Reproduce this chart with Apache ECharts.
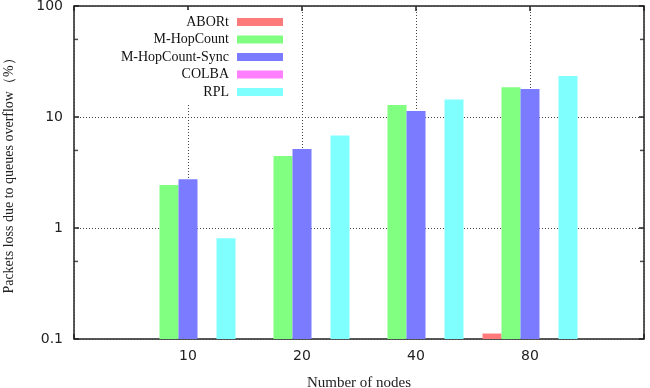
<!DOCTYPE html>
<html>
<head>
<meta charset="utf-8">
<script src="https://cdn.jsdelivr.net/npm/echarts@6/dist/echarts.min.js"></script>
<style>html,body{margin:0;padding:0;background:#fff}#c{width:650px;height:388px}</style>
</head>
<body>
<div id="c"></div>
<script>
const categories = ['10', '20', '40', '80'];
const seriesNames = ['ABORt', 'M-HopCount', 'M-HopCount-Sync', 'COLBA', 'RPL'];
const abort = [null, null, null, 0.112];
const mHopCount = [2.44, 4.45, 12.8, 18.5];
const mHopCountSync = [2.75, 5.15, 11.3, 17.9];
const colba = [null, null, null, null];
const rpl = [0.81, 6.8, 14.4, 23.4];
const yTicks = [0.1, 1, 10, 100];
const minorTickValues = [50, 5, 0.5];

const colors = ['#ff7a7a', '#80ff80', '#7b7bff', '#ff80ff', '#80ffff'];
const axisData = [''].concat(categories, ['']);
function pad(arr) { return ['-'].concat(arr.map(v => v == null ? '-' : v), ['-']); }
const allData = [abort, mHopCount, mHopCountSync, colba, rpl];

const serif = 'Liberation Serif';
const sans = 'DejaVu Sans';

const barSeries = seriesNames.map((name, i) => ({
  name: name,
  type: 'bar',
  xAxisIndex: 0,
  yAxisIndex: 0,
  data: pad(allData[i]),
  barWidth: 19,
  barGap: '0%',
  itemStyle: { color: colors[i] },
  z: 3
}));

const minorData = [];
minorTickValues.forEach(v => { minorData.push([0, v]); });
const minorDataR = [];
minorTickValues.forEach(v => { minorDataR.push([axisData.length - 1, v]); });

const chart = echarts.init(document.getElementById('c'), null, { renderer: 'canvas' });
chart.setOption({
  animation: false,
  backgroundColor: '#fff',
  grid: { left: 74, right: 6, top: 6, bottom: 49, show: true, borderColor: '#222', borderWidth: 1.5, backgroundColor: 'transparent', containLabel: false, outerBoundsMode: 'none' },
  legend: {
    data: seriesNames,
    orient: 'vertical',
    align: 'right',
    right: 362,
    top: 10,
    backgroundColor: '#fff',
    padding: [5, 5, 5, 30],
    itemWidth: 46,
    itemHeight: 8,
    itemGap: 3.5,
    icon: 'rect',
    selectedMode: false,
    textStyle: { fontFamily: serif, fontSize: 14, color: '#111', lineHeight: 14, padding: [0, 3, 0, 0] },
    z: 10
  },
  xAxis: [{
    type: 'category',
    data: axisData,
    boundaryGap: false,
    position: 'bottom',
    axisLine: { show: false },
    axisTick: { show: true, inside: true, length: 5, lineStyle: { color: '#222', width: 1.5 }, interval: 0 },
    axisLabel: { fontFamily: sans, fontSize: 14, color: '#222', margin: 10, interval: 0 },
    splitLine: { show: true, interval: 0, lineStyle: { color: '#444', width: 1, type: [1, 2] } },
    name: 'Number of nodes',
    nameLocation: 'middle',
    nameGap: 37,
    nameTextStyle: { fontFamily: serif, fontSize: 15, color: '#222' }
  }, {
    type: 'category',
    data: axisData,
    boundaryGap: false,
    position: 'top',
    axisLine: { show: false },
    axisTick: { show: true, inside: true, length: 5, lineStyle: { color: '#222', width: 1.5 }, interval: 0 },
    axisLabel: { show: false },
    splitLine: { show: false }
  }],
  yAxis: [{
    type: 'log',
    logBase: 10,
    min: 0.1,
    max: 100,
    startValue: 0.1,
    position: 'left',
    axisLine: { show: false },
    axisTick: { show: true, inside: true, length: 5, lineStyle: { color: '#222', width: 1.5 } },
    axisLabel: { fontFamily: sans, fontSize: 14, color: '#222', margin: 11, formatter: v => String(+v.toPrecision(3)) },
    splitLine: { show: true, lineStyle: { color: '#444', width: 1, type: [1, 2] } },
    name: 'Packets loss due to queues overflow（%）',
    nameLocation: 'middle',
    nameGap: 58,
    nameTextStyle: { fontFamily: serif, fontSize: 14, color: '#222' }
  }, {
    type: 'log',
    logBase: 10,
    min: 0.1,
    max: 100,
    position: 'right',
    axisLine: { show: false },
    axisTick: { show: true, inside: true, length: 5, lineStyle: { color: '#222', width: 1.5 } },
    axisLabel: { show: false },
    splitLine: { show: false }
  }],
  series: barSeries.concat([{
    type: 'scatter',
    xAxisIndex: 0, yAxisIndex: 0,
    data: minorData,
    symbol: 'rect',
    symbolSize: [4, 1.5],
    symbolOffset: [2, 0],
    itemStyle: { color: '#222' },
    silent: true,
    z: 4
  }, {
    type: 'scatter',
    xAxisIndex: 0, yAxisIndex: 0,
    data: minorDataR,
    symbol: 'rect',
    symbolSize: [4, 1.5],
    symbolOffset: [-2, 0],
    itemStyle: { color: '#222' },
    silent: true,
    z: 4
  }])
});
</script>
</body>
</html>
